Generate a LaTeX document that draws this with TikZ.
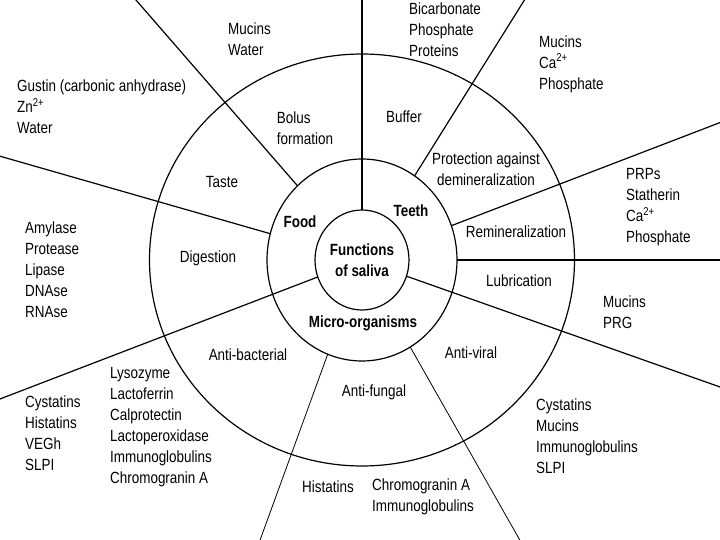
\documentclass[tikz,border=0pt]{standalone}
\usepackage{fontspec}
\setmainfont{Liberation Sans}[FakeStretch=0.83]
\usetikzlibrary{shapes.geometric,calc}

\begin{document}
\begin{tikzpicture}[x=1pt,y=-1pt,
      ring/.style={draw,ellipse,line width=1.2pt,inner sep=0pt,outer sep=0pt},
      spoke/.style={line width=1.2pt},
      thin spoke/.style={line width=0.8pt},
      lbl/.style={font=\fontsize{16.2}{21}\selectfont,inner sep=0pt,align=center},
      lst/.style={font=\fontsize{16.2}{21}\selectfont,inner sep=0pt,align=left,anchor=west},
      hub/.style={font=\fontsize{16.2}{21}\selectfont\bfseries,inner sep=0pt,align=center}]
    \useasboundingbox (0,0) rectangle (720,540);
    \coordinate (C) at (362,260);
    % the three rings
    \node[ring,minimum width=425pt,minimum height=412pt] (rim) at (C) {};
    \node[ring,minimum width=190pt,minimum height=202pt] (mid) at (C) {};
    \node[ring,minimum width=94pt,minimum height=100pt,fill=white] (core) at (C) {};
    % spokes
    \begin{scope}
      \clip (0,0) rectangle (720,540);
      \draw[line width=2pt] (core.90) -- ($(C)+(90:700pt)$);
      \draw[spoke] (mid.131) -- ($(C)+(131:700pt)$);
      \draw[spoke] (mid.164) -- ($(C)+(164:700pt)$);
      \draw[spoke] (core.201) -- ($(C)+(201:700pt)$);
      \draw[thin spoke] (mid.250) -- ($(C)+(250:700pt)$);
      \draw[thin spoke] (mid.299.5) -- ($(C)+(299.5:700pt)$);
      \draw[spoke] (core.340.5) -- ($(C)+(340.5:700pt)$);
      \draw[spoke] (mid.0) -- ($(C)+(0:700pt)$);
      \draw[spoke] (mid.21) -- ($(C)+(21:700pt)$);
      \draw[spoke] (mid.58) -- ($(C)+(58:700pt)$);
    \end{scope}
    % centre
    \node[hub] (title) at (362,260) {Functions\\of saliva};
    \node[hub] (food)  at (300,222) {Food};
    \node[hub] (teeth) at (411,211) {Teeth};
    \node[hub] (micro) at (363,323) {Micro-organisms};
    % functions
    \node[lbl,align=left] (bolus) at (305,128) {Bolus\\formation};
    \node[lbl] (taste)   at (222,182) {Taste};
    \node[lbl] (buffer)  at (404,117) {Buffer};
    \node[lbl] (protect) at (486,169) {Protection against\\demineralization};
    \node[lbl] (remin)   at (516,232) {Remineralization};
    \node[lbl] (lubr)    at (519,281) {Lubrication};
    \node[lbl] (antiv)   at (471,353) {Anti-viral};
    \node[lbl] (antif)   at (374,392) {Anti-fungal};
    \node[lbl] (antib)   at (248,355) {Anti-bacterial};
    \node[lbl] (digest)  at (208,258) {Digestion};
    % components
    \node[lst] (mucw) at (228,39)  {Mucins\\Water};
    \node[lst] (gus)  at (17,107)  {Gustin (carbonic anhydrase)\\Zn\textsuperscript{2+}\\Water};
    \node[lst] (bic)  at (409,30)  {Bicarbonate\\Phosphate\\Proteins};
    \node[lst] (mucca) at (539,64) {Mucins\\Ca\textsuperscript{2+}\\Phosphate};
    \node[lst] (prp)  at (626,207) {PRPs\\Statherin\\Ca\textsuperscript{2+}\\Phosphate};
    \node[lst] (prg)  at (603,312) {Mucins\\PRG};
    \node[lst] (cysv) at (536,436) {Cystatins\\Mucins\\Immunoglobulins\\SLPI};
    \node[lst] (chr)  at (372,497) {Chromogranin A\\Immunoglobulins};
    \node[lst] (his)  at (302,487) {Histatins};
    \node[lst] (lys)  at (110,427) {Lysozyme\\Lactoferrin\\Calprotectin\\Lactoperoxidase\\Immunoglobulins\\Chromogranin A};
    \node[lst] (cysb) at (25,433)  {Cystatins\\Histatins\\VEGh\\SLPI};
    \node[lst] (amy)  at (25,270)  {Amylase\\Protease\\Lipase\\DNAse\\RNAse};
\end{tikzpicture}
\end{document}
